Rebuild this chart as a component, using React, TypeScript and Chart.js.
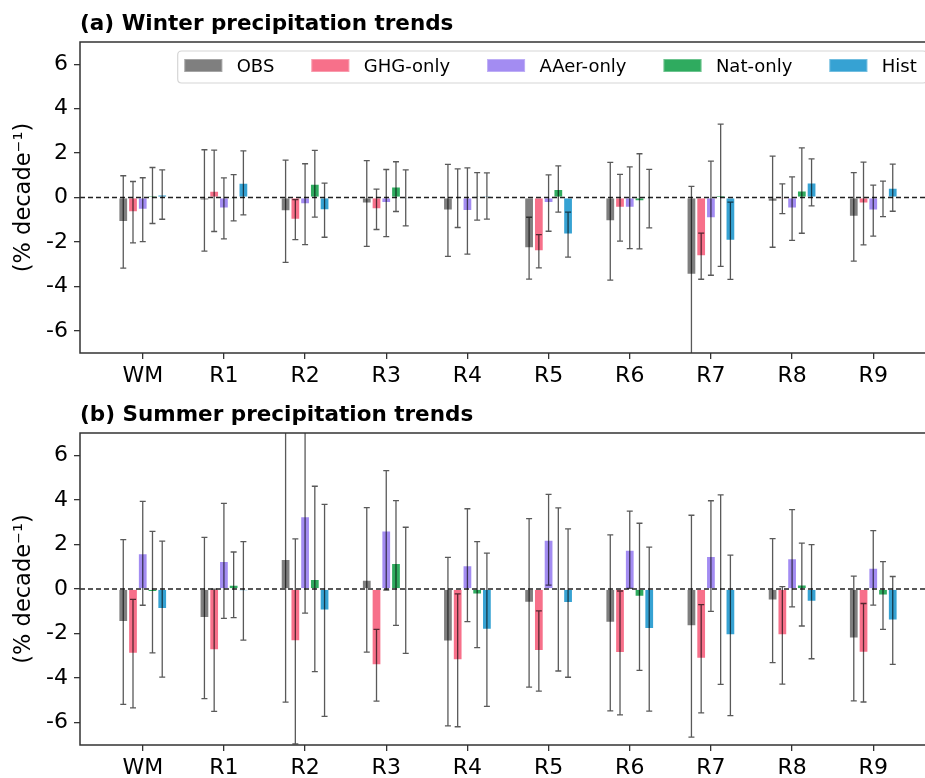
import React, { useEffect, useRef } from 'react';
import { Chart, registerables } from 'chart.js';

Chart.register(...registerables);

const FONT = 'DejaVu Sans';

const regions = ['WM', 'R1', 'R2', 'R3', 'R4', 'R5', 'R6', 'R7', 'R8', 'R9'];
const seriesNames = ['OBS', 'GHG-only', 'AAer-only', 'Nat-only', 'Hist'];
const seriesColors = ['#7f7f7f', '#f7708a', '#a38cf2', '#2fab5f', '#36a2d3'];
const yTicks = [-6, -4, -2, 0, 2, 4, 6];

// (a) Winter
const winterObs = [-1.1, -0.13, -0.62, -0.27, -0.58, -2.28, -1.07, -3.48, -0.19, -0.87];
const winterObsErr = [2.08, 2.28, 2.3, 1.93, 2.07, 1.39, 2.65, 3.98, 2.05, 1.99];
const winterGhg = [-0.66, 0.3, -1.0, -0.53, -0.03, -2.42, -0.46, -2.64, -0.06, -0.27];
const winterGhgErr = [1.38, 1.83, 0.9, 0.91, 1.32, 0.75, 1.5, 1.04, 0.67, 1.86];
const winterAaer = [-0.55, -0.49, -0.3, -0.25, -0.61, -0.25, -0.46, -0.93, -0.5, -0.59];
const winterAaerErr = [1.44, 1.37, 1.82, 1.51, 1.94, 1.27, 1.84, 2.57, 1.43, 1.15];
const winterNat = [0.09, -0.01, 0.62, 0.49, 0.05, 0.38, -0.17, 0.1, 0.31, -0.06];
const winterNatErr = [1.26, 1.04, 1.5, 1.12, 1.07, 1.04, 2.14, 3.2, 1.92, 0.8];
const winterHist = [0.13, 0.66, -0.57, -0.02, 0.07, -1.67, -0.05, -1.95, 0.68, 0.44];
const winterHistErr = [1.11, 1.44, 1.22, 1.26, 1.04, 1.01, 1.32, 1.74, 1.06, 1.06];

// (b) Summer
const summerObs = [-1.48, -1.3, 1.35, 0.41, -2.36, -0.62, -1.52, -1.67, -0.52, -2.22];
const summerObsErr = [3.7, 3.62, 6.43, 3.24, 3.78, 3.78, 3.95, 4.98, 2.78, 2.8];
const summerGhg = [-2.9, -2.75, -2.35, -3.42, -3.2, -2.78, -2.87, -3.13, -2.08, -2.86];
const summerGhgErr = [2.43, 2.74, 4.6, 1.61, 2.98, 1.8, 2.78, 2.43, 2.19, 2.21];
const summerAaer = [1.6, 1.26, 3.26, 2.63, 1.07, 2.21, 1.76, 1.48, 1.38, 0.95];
const summerAaerErr = [2.33, 2.58, 4.34, 2.68, 2.53, 2.04, 1.73, 2.48, 2.18, 1.67];
const summerNat = [-0.14, 0.19, 0.45, 1.17, -0.25, -0.02, -0.35, -0.03, 0.2, -0.29];
const summerNatErr = [2.73, 1.47, 4.16, 2.8, 2.38, 3.66, 3.3, 4.25, 1.86, 1.52];
const summerHist = [-0.9, -0.08, -0.96, -0.06, -1.83, -0.63, -1.8, -2.08, -0.57, -1.41];
const summerHistErr = [3.05, 2.21, 4.76, 2.83, 3.44, 3.33, 3.68, 3.6, 2.56, 1.97];

const overlayPlugin = {
  id: 'overlay',
  afterDatasetsDraw(chart: any) {
    const { ctx, chartArea, scales } = chart;
    const y = scales.y;
    ctx.save();
    ctx.beginPath();
    ctx.rect(chartArea.left, chartArea.top, chartArea.right - chartArea.left, chartArea.bottom - chartArea.top);
    ctx.clip();
    const y0 = y.getPixelForValue(0);
    ctx.setLineDash([5, 3]);
    ctx.strokeStyle = '#222';
    ctx.lineWidth = 1.3;
    ctx.beginPath();
    ctx.moveTo(chartArea.left, y0);
    ctx.lineTo(chartArea.right, y0);
    ctx.stroke();
    ctx.setLineDash([]);
    chart.data.datasets.forEach((ds: any, di: number) => {
      const meta = chart.getDatasetMeta(di);
      meta.data.forEach((bar: any, i: number) => {
        const v = ds.data[i].y;
        const e = ds.errors[i];
        const top = y.getPixelForValue(v + e);
        const bot = y.getPixelForValue(v - e);
        const x = bar.x;
        ctx.strokeStyle = 'rgba(0,0,0,0.65)';
        ctx.lineWidth = 1.3;
        ctx.beginPath();
        ctx.moveTo(x, top);
        ctx.lineTo(x, bot);
        ctx.moveTo(x - 3, top);
        ctx.lineTo(x + 3, top);
        ctx.moveTo(x - 3, bot);
        ctx.lineTo(x + 3, bot);
        ctx.stroke();
      });
    });
    ctx.restore();
    ctx.save();
    ctx.strokeStyle = '#333';
    ctx.lineWidth = 1.5;
    ctx.strokeRect(chartArea.left, chartArea.top, chartArea.right - chartArea.left, chartArea.bottom - chartArea.top);
    ctx.restore();
  },
};

const legendPlugin = {
  id: 'customLegend',
  afterDraw(chart: any) {
    const { ctx, chartArea } = chart;
    const left = chartArea.left + 97.7;
    const right = chartArea.right - 9;
    const top = chartArea.top + 9;
    const bottom = chartArea.top + 41;
    ctx.save();
    ctx.beginPath();
    const r = 4;
    ctx.moveTo(left + r, top);
    ctx.lineTo(right - r, top);
    ctx.quadraticCurveTo(right, top, right, top + r);
    ctx.lineTo(right, bottom - r);
    ctx.quadraticCurveTo(right, bottom, right - r, bottom);
    ctx.lineTo(left + r, bottom);
    ctx.quadraticCurveTo(left, bottom, left, bottom - r);
    ctx.lineTo(left, top + r);
    ctx.quadraticCurveTo(left, top, left + r, top);
    ctx.closePath();
    ctx.fillStyle = 'rgba(255,255,255,0.85)';
    ctx.fill();
    ctx.strokeStyle = '#d6d6d6';
    ctx.lineWidth = 1.2;
    ctx.stroke();
    ctx.font = `18px "${FONT}"`;
    ctx.textBaseline = 'alphabetic';
    ctx.textAlign = 'left';
    let x = left + 6.6;
    const sy = top + 8;
    seriesNames.forEach((name, i) => {
      ctx.fillStyle = seriesColors[i];
      ctx.fillRect(x, sy, 38, 13);
      ctx.strokeStyle = 'rgba(255,255,255,0.3)';
      ctx.lineWidth = 1;
      ctx.strokeRect(x + 0.5, sy + 0.5, 37, 12);
      ctx.fillStyle = '#000';
      const tx = x + 52.4;
      ctx.fillText(name, tx, sy + 13.3);
      x = tx + ctx.measureText(name).width + 37;
    });
    ctx.restore();
  },
};

function makeConfig(title: string, values: number[][], errors: number[][], withLegend: boolean, xAxisHeight: number) {
  return {
    type: 'bar' as const,
    data: {
      datasets: seriesNames.map((name, s) => ({
        label: name,
        data: values[s].map((v, i) => ({ x: i, y: v })),
        errors: errors[s],
        backgroundColor: seriesColors[s],
        borderColor: 'rgba(255,255,255,0.3)',
        borderWidth: 1,
        categoryPercentage: 0.6,
        barPercentage: 1.0,
      })),
    },
    options: {
      animation: false,
      responsive: false,
      maintainAspectRatio: false,
      layout: { padding: 0 },
      plugins: {
        legend: { display: false },
        tooltip: { enabled: false },
        title: {
          display: true,
          text: title,
          align: 'start',
          fullSize: false,
          color: '#000',
          font: { family: FONT, size: 21.5, weight: 'bold', lineHeight: 1.2 },
          padding: { top: 11.6, bottom: 4.6 },
        },
      },
      scales: {
        x: {
          type: 'linear',
          min: -0.773,
          max: 9.773,
          offset: false,
          afterBuildTicks: (s: any) => {
            s.ticks = regions.map((_, i) => ({ value: i }));
          },
          afterFit: (s: any) => {
            s.height = xAxisHeight;
          },
          ticks: {
            autoSkip: false,
            maxRotation: 0,
            color: '#000',
            padding: 4,
            font: { family: FONT, size: 22 },
            callback: (v: any) => regions[v] ?? '',
          },
          grid: { offset: false, drawOnChartArea: false, drawTicks: true, tickLength: 6, color: '#333', lineWidth: 1.3 },
          border: { display: false },
        },
        y: {
          min: -7,
          max: 7,
          afterBuildTicks: (s: any) => {
            s.ticks = yTicks.map((v) => ({ value: v }));
          },
          afterFit: (s: any) => {
            s.width = 80;
          },
          ticks: {
            color: '#000',
            padding: 6,
            font: { family: FONT, size: 22 },
            callback: (v: any) => String(v),
          },
          grid: { drawOnChartArea: false, drawTicks: true, tickLength: 6, color: '#333', lineWidth: 1.3 },
          border: { display: false },
          title: {
            display: true,
            text: '(% decade⁻¹)',
            color: '#000',
            font: { family: FONT, size: 22.5 },
            padding: { top: 11, bottom: 0 },
          },
        },
      },
    },
    plugins: withLegend ? [overlayPlugin, legendPlugin] : [overlayPlugin],
  };
}

export default function App() {
  const refA = useRef<HTMLCanvasElement>(null);
  const refB = useRef<HTMLCanvasElement>(null);

  useEffect(() => {
    const a = new Chart(
      refA.current as HTMLCanvasElement,
      makeConfig(
        '(a) Winter precipitation trends',
        [winterObs, winterGhg, winterAaer, winterNat, winterHist],
        [winterObsErr, winterGhgErr, winterAaerErr, winterNatErr, winterHistErr],
        true,
        37
      ) as any
    );
    const b = new Chart(
      refB.current as HTMLCanvasElement,
      makeConfig(
        '(b) Summer precipitation trends',
        [summerObs, summerGhg, summerAaer, summerNat, summerHist],
        [summerObsErr, summerGhgErr, summerAaerErr, summerNatErr, summerHistErr],
        false,
        33
      ) as any
    );
    return () => {
      a.destroy();
      b.destroy();
    };
  }, []);

  return (
    <div style={{ position: 'absolute', left: 0, top: 0, width: 925, height: 778, overflow: 'hidden', background: '#fff' }}>
      <canvas ref={refA} width={936} height={390} style={{ position: 'absolute', left: 0, top: 0, width: 936, height: 390 }} />
      <canvas ref={refB} width={936} height={387} style={{ position: 'absolute', left: 0, top: 391, width: 936, height: 387 }} />
    </div>
  );
}
